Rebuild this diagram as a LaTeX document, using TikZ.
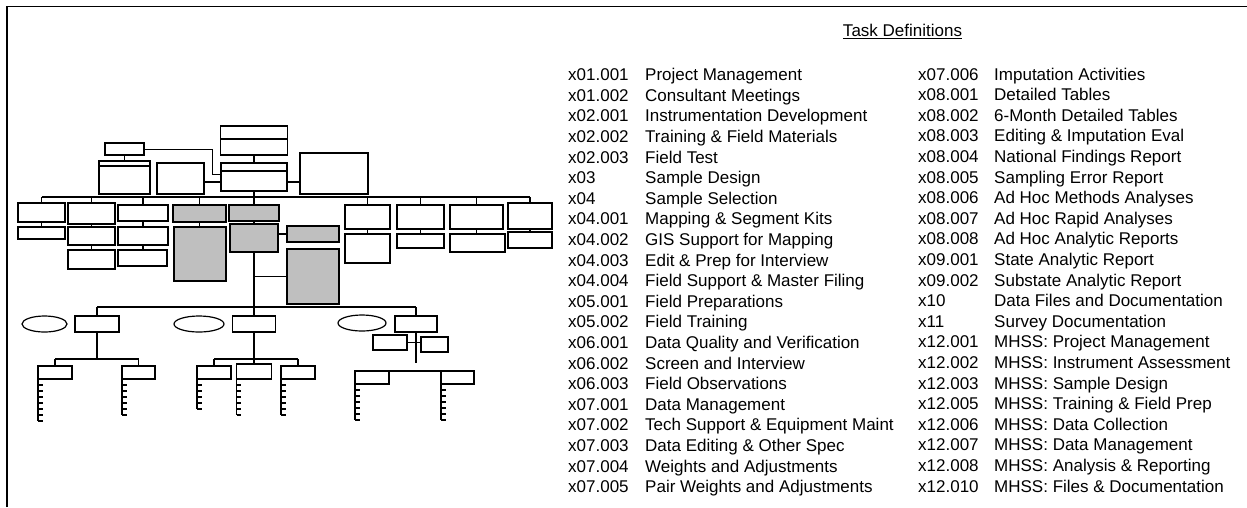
\documentclass[tikz,border=0pt]{standalone}
\usepackage{fontspec}
\setmainfont{Liberation Sans}
\colorlet{FilledUnit}{black!25}
\usetikzlibrary{calc, shapes.geometric}
\tikzset{
    unit/.style 2 args={draw, line width=1.6pt, inner sep=0pt, outer sep=0pt,
        minimum width=#1, minimum height=#2},
    filled unit/.style 2 args={unit={#1}{#2}, fill=FilledUnit},
    oval/.style 2 args={draw, ellipse, line width=1.2pt, inner sep=0pt,
        minimum width=#1, minimum height=#2},
    link/.style={line width=1.3pt},
    task/.style={anchor=base west, inner sep=0pt}
}

\begin{document}
\begin{tikzpicture}[x=1pt, y=-1pt, font=\fontsize{17}{20}\selectfont]

\useasboundingbox (0,0) rectangle (1247,507);
\draw[line width=1.8pt] (7,507) -- (7,6.5) -- (1247,6.5);

% Parte superior del organigrama
\node[unit={67}{29}] (top) at (254,140.5) {};
\node[unit={66}{28}] (main) at (254,177) {};
\node[unit={47}{31}] (side) at (180.5,178.5) {};
\node[unit={68}{41}] (right) at (334,173.5) {};
\node[unit={39}{12}] (sm) at (124.5,149) {};
\node[unit={51}{33}] (smb) at (124.5,177.5) {};

\draw[line width=1.6pt] ([yshift=-13pt]top.north west) -- ([yshift=-13pt]top.north east);
\draw[line width=1.6pt] ([yshift=-8pt]main.north west) -- ([yshift=-8pt]main.north east);
\draw[line width=1.6pt] ([yshift=-5pt]smb.north west) -- ([yshift=-5pt]smb.north east);

\draw[link] (top.south) -- (main.north);
\draw[link] (sm.south) -- (smb.north);
\draw[line width=1pt] (sm.east) -- ++(68,0) |- ([yshift=3pt]main.west);
\draw[link] ([yshift=-3.5pt]side.east) -- ([yshift=-3.5pt]side.east -| main.west);
\draw[link] ([yshift=-5pt]main.east) -- ([yshift=-5pt]main.east -| right.west);

% Segundo nivel
\node[unit={47}{19}] (a1) at (41.5,212.5) {};
\node[unit={47}{21}] (a2) at (91.5,213.5) {};
\node[unit={50}{16}] (a3) at (143,213) {};
\node[filled unit={53}{17}] (a4) at (199.5,213.5) {};
\node[filled unit={50}{16}] (a5) at (254,213) {};
\node[unit={45}{24}] (a6) at (367.5,217) {};
\node[unit={47}{24}] (a7) at (420.5,217) {};
\node[unit={53}{24}] (a8) at (476.5,217) {};
\node[unit={44}{26}] (a9) at (530,216) {};

\node[unit={47}{12}] (b1) at (41.5,233) {};
\node[unit={47}{18}] (b2) at (91.5,236) {};
\node[unit={50}{18}] (b3) at (143,236) {};
\node[filled unit={52}{54}] (b4) at (200,254) {};
\node[filled unit={48}{28}] (b5) at (254,238) {};
\node[unit={45}{29}] (b6) at (367.5,248.5) {};
\node[unit={47}{14}] (b7) at (420.5,241) {};
\node[unit={55}{18}] (b8) at (477.5,243) {};
\node[unit={44}{16}] (b9) at (530,240) {};

\node[unit={47}{19}] (c2) at (91.5,259.5) {};
\node[unit={49}{16}] (c3) at (142.5,258) {};

\node[filled unit={52}{16}] (g1) at (313,234) {};
\node[filled unit={52}{55}] (g2) at (313,276.5) {};

\coordinate (bus1) at (254,197);
\draw[link] (a1.north |- bus1) -- (a9.north |- bus1);
\draw[link] (main.south) -- (bus1);
\foreach \n in {a1,a2,a3,a4,a5,a6,a7,a8,a9}
    \draw[link] (\n.north) -- (\n.north |- bus1);
\foreach \u/\l in {a1/b1, a2/b2, b2/c2, a3/b3, b3/c3, a4/b4, a5/b5,
                   a6/b6, a7/b7, a8/b8, a9/b9}
    \draw[link] (\u.south) -- (\u.south |- \l.north);
\draw[link] (g1.west) -- (g1.west -| b5.east);
\draw[link] (g2.west) -- (g2.west -| b5.south);

% Tercer nivel
\node[unit={44}{16}] (l) at (97,324) {};
\node[unit={43}{16}] (m) at (254,324) {};
\node[unit={42}{16}] (r) at (416,324) {};
\node[oval={45}{16}] (el) at (44.5,324) {};
\node[oval={50}{16}] (em) at (199,324) {};
\node[oval={48}{16}] (er) at (362,323) {};
\node[unit={34}{15}] (r1) at (390,342.5) {};
\node[unit={27}{15}] (r2) at (434.5,344.5) {};

\coordinate (bus2) at (254,307);
\draw[link] (l.north |- bus2) -- (r.north |- bus2);
\draw[link] (b5.south) -- (m.north);
\draw[link] (l.north) -- (l.north |- bus2);
\draw[link] (r.north) -- (r.north |- bus2);
\coordinate (rtail) at ($(r.south)+(0,31)$);
\draw[link] (r.south) -- (rtail);
\draw[link] (r1.east) -- (r1.east -| r2.west);

% Hojas con sus listas
\node[unit={34}{13}] (ll) at (55,372.5) {};
\node[unit={33}{13}] (lr) at (138.5,372.5) {};
\node[unit={34}{13}] (ml) at (214,372.5) {};
\node[unit={35}{15}] (mm) at (254,371.5) {};
\node[unit={34}{13}] (mr) at (298,372.5) {};
\node[unit={34}{13}] (rl) at (372,377.5) {};
\node[unit={33}{13}] (rr) at (457.5,377.5) {};

\coordinate (bus3) at (97,359);
\draw[link] (l.south) -- (bus3);
\draw[link] (ll.north |- bus3) -- (lr.north |- bus3);
\draw[link] (ll.north) -- (ll.north |- bus3);
\draw[link] (lr.north) -- (lr.north |- bus3);

\coordinate (bus4) at (254,359);
\draw[link] (m.south) -- (mm.north);
\draw[link] (ml.north |- bus4) -- (mr.north |- bus4);
\draw[link] (ml.north) -- (ml.north |- bus4);
\draw[link] (mr.north) -- (mr.north |- bus4);

\draw[link] (rl.north east) -- (rr.north west);

\foreach \leaf/\len in {ll/42, lr/36, ml/30, mm/36, mr/36, rl/36, rr/36} {
    \draw[link] (\leaf.south west) -- ++(0,\len);
    \foreach \k in {6,12,...,\len}
        \draw[link] ($(\leaf.south west)+(0,\k)$) -- ++(4.5,0);
}

% Definiciones de tareas
\node[anchor=base, inner sep=0pt] (title) at (902.5,36.5) {\underline{Task Definitions}};

\foreach \code/\name [count=\i from 0] in {
    x01.001/Project Management, x01.002/Consultant Meetings,
    x02.001/Instrumentation Development, x02.002/Training \& Field Materials,
    x02.003/Field Test, x03/Sample Design, x04/Sample Selection,
    x04.001/Mapping \& Segment Kits, x04.002/GIS Support for Mapping,
    x04.003/Edit \& Prep for Interview, x04.004/Field Support \& Master Filing,
    x05.001/Field Preparations, x05.002/Field Training,
    x06.001/Data Quality and Verification, x06.002/Screen and Interview,
    x06.003/Field Observations, x07.001/Data Management,
    x07.002/Tech Support \& Equipment Maint, x07.003/Data Editing \& Other Spec,
    x07.004/Weights and Adjustments, x07.005/Pair Weights and Adjustments} {
    \node[task] (code-a\i) at (568,{80.6+20.6*\i}) {\code};
    \node[task] (task-a\i) at (645,{80.6+20.6*\i}) {\name};
}

\foreach \code/\name [count=\i from 0] in {
    x07.006/Imputation Activities, x08.001/Detailed Tables,
    x08.002/6-Month Detailed Tables, x08.003/Editing \& Imputation Eval,
    x08.004/National Findings Report, x08.005/Sampling Error Report,
    x08.006/Ad Hoc Methods Analyses, x08.007/Ad Hoc Rapid Analyses,
    x08.008/Ad Hoc Analytic Reports, x09.001/State Analytic Report,
    x09.002/Substate Analytic Report, x10/Data Files and Documentation,
    x11/Survey Documentation, x12.001/MHSS: Project Management,
    x12.002/MHSS: Instrument Assessment, x12.003/MHSS: Sample Design,
    x12.005/MHSS: Training \& Field Prep, x12.006/MHSS: Data Collection,
    x12.007/MHSS: Data Management, x12.008/MHSS: Analysis \& Reporting,
    x12.010/MHSS: Files \& Documentation} {
    \node[task] (code-b\i) at (918,{80+20.6*\i}) {\code};
    \node[task] (task-b\i) at (994,{80+20.6*\i}) {\name};
}

\end{tikzpicture}
\end{document}
